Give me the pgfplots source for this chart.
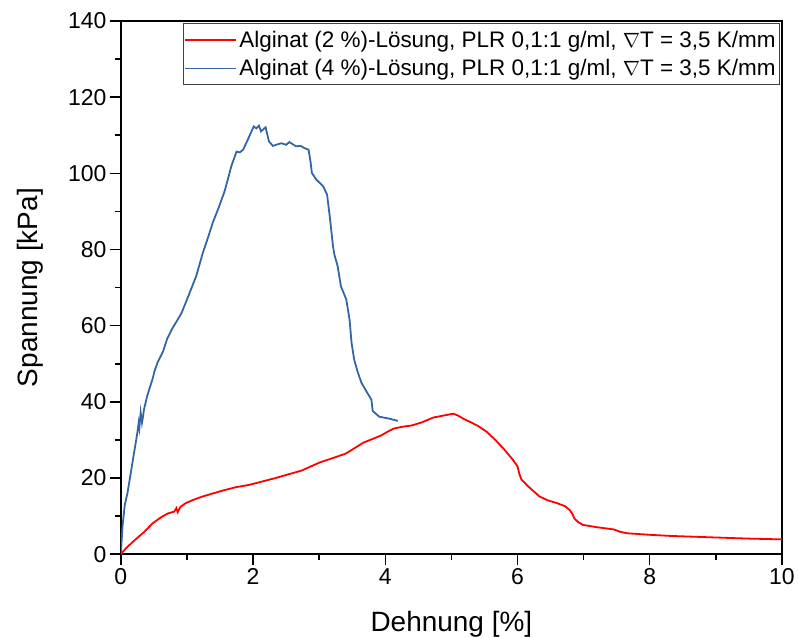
\documentclass[border=0pt]{standalone}
\usepackage{fontspec}
\setmainfont{Liberation Sans}
\usepackage{pgfplots}
\pgfplotsset{compat=1.18}
\definecolor{cblue}{RGB}{52,101,164}
\definecolor{cred}{RGB}{255,0,0}
\begin{document}
\begin{tikzpicture}
\begin{axis}[
  scale only axis,
  width=662bp, height=534bp,
  xmin=0, xmax=10, ymin=0, ymax=140,
  xtick={0,2,4,6,8,10},
  ytick={0,20,40,60,80,100,120,140},
  minor x tick num=1, minor y tick num=1,
  xtick pos=bottom, ytick pos=left,
  tick align=outside,
  major tick length=11bp, minor tick length=6bp,
  axis line style={line width=1.5bp},
  every tick/.style={black, line width=1.5bp},
  /pgf/number format/assume math mode=true,
  ticklabel style={font=\fontsize{23bp}{27bp}\selectfont},
  xlabel={Dehnung [\%]}, ylabel={Spannung [kPa]},
  label style={font=\fontsize{28bp}{32bp}\selectfont, inner sep=0pt},
  xlabel style={at={(axis description cs:0.5,-0.131)}, anchor=center},
  ylabel style={at={(axis description cs:-0.137,0.5)}, anchor=center},
  legend style={at={(rel axis cs:1,1)}, xshift=-2bp, yshift=-2bp, anchor=north east,
    draw=black!75, line width=0.8bp, font=\fontsize{22.5bp}{26bp}\selectfont,
    inner xsep=1bp, inner ysep=2bp, row sep=0bp,
    nodes={inner xsep=3bp, inner ysep=5.5bp}},
  legend cell align=left,
  legend image code/.code={\draw[#1, line width=1.6bp] (0bp,0bp) -- (51bp,0bp);},
]
\addplot[cred, line width=1.8bp] coordinates {
(0,0) (0.08,1.6) (0.21,3.7) (0.35,5.8) (0.48,8.1) (0.60,9.6) (0.71,10.7) (0.81,11.2)
(0.84,12.1) (0.86,11.0) (0.90,12.4) (0.98,13.4) (1.10,14.3) (1.21,15.0) (1.38,15.9)
(1.54,16.7) (1.74,17.6) (1.94,18.2) (2.14,19.1) (2.34,20.0) (2.54,21.0) (2.74,22.0)
(2.88,23.1) (3.01,24.1) (3.20,25.2) (3.40,26.4) (3.55,28.0) (3.67,29.3) (3.80,30.2)
(3.94,31.2) (4.05,32.3) (4.13,33.0) (4.27,33.5) (4.40,33.8) (4.55,34.6) (4.73,35.9)
(4.88,36.4) (5.03,36.9) (5.10,36.4) (5.20,35.4) (5.30,34.6) (5.40,33.7) (5.53,32.2)
(5.66,30.1) (5.80,27.5) (5.93,24.8) (6.00,23.1) (6.03,21.0) (6.06,19.6) (6.15,18.0)
(6.33,15.2) (6.45,14.2) (6.60,13.4) (6.72,12.6) (6.79,11.6) (6.83,10.6) (6.86,9.4)
(6.92,8.4) (6.99,7.7) (7.20,7.1) (7.46,6.5) (7.55,5.9) (7.66,5.5) (8.00,5.1)
(8.32,4.8) (8.66,4.6) (8.99,4.4) (9.50,4.1) (10,3.9)
};
\addlegendentry{Alginat (2 \%)-Lösung, PLR 0,1:1 g/ml, $\nabla$T = 3,5 K/mm}
\addplot[cblue, line width=1.8bp] coordinates {
(0,0) (0.025,7.2) (0.06,13) (0.10,16) (0.15,21.3) (0.20,26.6) (0.25,31.9) (0.27,34.5)
(0.28,33.2) (0.30,37.2) (0.32,34.5) (0.33,35.5) (0.35,38) (0.40,41.6) (0.43,43.3)
(0.48,46) (0.51,48.1) (0.56,50.5) (0.64,53.3) (0.70,56.5) (0.77,59) (0.85,61.3)
(0.92,63.4) (1.02,67.7) (1.14,73) (1.24,79.1) (1.32,83.2) (1.39,87) (1.48,91)
(1.57,95.3) (1.62,98.5) (1.67,101.8) (1.75,105.7) (1.80,105.5) (1.85,106.2)
(1.92,108.8) (2.01,112.3) (2.05,111.8) (2.09,112.5) (2.12,111) (2.19,112.1)
(2.24,108.4) (2.30,107.2) (2.37,107.6) (2.43,107.9) (2.50,107.5) (2.55,108.2)
(2.65,107.1) (2.72,107.2) (2.78,106.6) (2.84,106.2) (2.87,103) (2.89,100.1)
(2.96,98.3) (3.06,96.6) (3.12,94.4) (3.16,88.7) (3.21,80.8) (3.23,78.7) (3.28,75.6)
(3.33,70.3) (3.41,66.9) (3.46,61.6) (3.49,55.5) (3.53,51.1) (3.58,48) (3.64,45)
(3.72,42.6) (3.79,40.6) (3.81,37.6) (3.91,36.1) (4.06,35.6) (4.19,35)
};
\addlegendentry{Alginat (4 \%)-Lösung, PLR 0,1:1 g/ml, $\nabla$T = 3,5 K/mm}
\end{axis}
\path ([xshift=-121bp,yshift=-83bp]current axis.south west) rectangle ([xshift=15bp,yshift=21bp]current axis.north east);
\end{tikzpicture}
\end{document}
